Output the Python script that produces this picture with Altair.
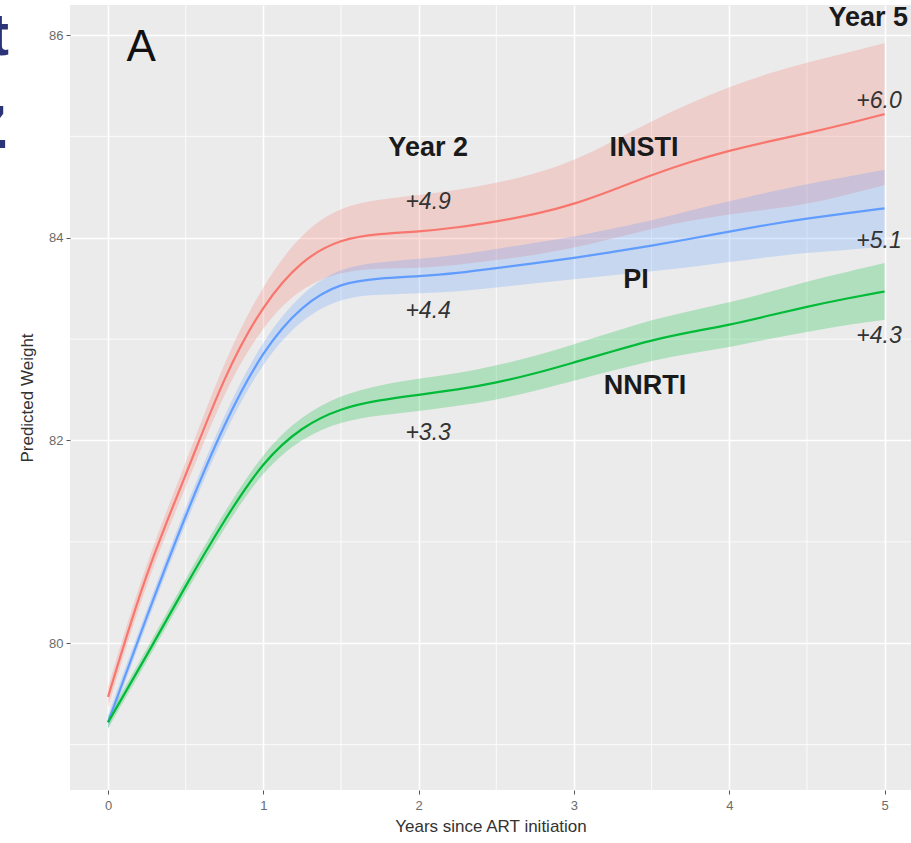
import altair as alt
import pandas as pd

# ---------------- data ----------------
years = [0.0, 0.25, 0.5, 0.75, 1.0, 1.25, 1.5, 1.75, 2.0, 2.25, 2.5,
         2.75, 3.0, 3.25, 3.5, 3.75, 4.0, 4.25, 4.5, 4.75, 5.0]

insti_fit = [79.47, 80.73, 81.65, 82.65, 83.35, 83.79, 83.99, 84.04, 84.06, 84.10, 84.16,
             84.23, 84.33, 84.47, 84.62, 84.75, 84.86, 84.95, 85.03, 85.12, 85.22]
insti_lo = [79.37, 80.63, 81.53, 82.50, 83.15, 83.52, 83.67, 83.70, 83.70, 83.73, 83.78,
            83.83, 83.90, 83.99, 84.09, 84.17, 84.23, 84.28, 84.33, 84.42, 84.52]
insti_hi = [79.57, 80.83, 81.77, 82.80, 83.55, 84.06, 84.31, 84.38, 84.42, 84.47, 84.54,
            84.63, 84.76, 84.95, 85.15, 85.33, 85.49, 85.62, 85.73, 85.82, 85.92]

pi_fit = [79.22, 80.27, 81.27, 82.18, 82.90, 83.34, 83.56, 83.60, 83.62, 83.65, 83.70,
          83.75, 83.80, 83.86, 83.92, 83.99, 84.06, 84.13, 84.19, 84.24, 84.29]
pi_lo = [79.15, 80.20, 81.19, 82.09, 82.79, 83.21, 83.41, 83.44, 83.45, 83.47, 83.51,
         83.55, 83.59, 83.63, 83.67, 83.71, 83.76, 83.81, 83.85, 83.88, 83.91]
pi_hi = [79.29, 80.34, 81.35, 82.27, 83.01, 83.47, 83.71, 83.76, 83.79, 83.83, 83.89,
         83.95, 84.01, 84.09, 84.17, 84.27, 84.36, 84.45, 84.53, 84.60, 84.67]

nnrti_fit = [79.22, 79.88, 80.57, 81.22, 81.80, 82.14, 82.32, 82.40, 82.45, 82.50, 82.57,
             82.66, 82.77, 82.88, 82.99, 83.07, 83.14, 83.23, 83.32, 83.40, 83.47]
nnrti_lo = [79.16, 79.82, 80.50, 81.14, 81.71, 82.03, 82.19, 82.25, 82.29, 82.34, 82.40,
            82.49, 82.59, 82.69, 82.79, 82.86, 82.92, 83.00, 83.07, 83.14, 83.19]
nnrti_hi = [79.28, 79.94, 80.64, 81.30, 81.89, 82.25, 82.45, 82.55, 82.61, 82.66, 82.74,
            82.83, 82.95, 83.07, 83.19, 83.28, 83.36, 83.46, 83.57, 83.66, 83.75]

groups = ["INSTI", "PI", "NNRTI"]
group_colors = ["#F8766D", "#619CFF", "#00BA38"]

x_ticks = [0, 1, 2, 3, 4, 5]
y_ticks = [80, 82, 84, 86]
x_minor = [0.5, 1.5, 2.5, 3.5, 4.5]
y_minor = [79, 81, 83, 85]

# centred bold labels
bold_text = ["Year 2", "INSTI", "PI", "NNRTI"]
bold_x = [2.061, 3.451, 3.40, 3.458]
bold_y = [84.808, 84.808, 83.507, 82.463]

# right-aligned bold label
year5_text = ["Year 5"]
year5_x = [5.151]
year5_y = [86.089]

# italic gains at year 2 (centred) and year 5 (right-aligned)
gain2_text = ["+4.9", "+4.4", "+3.3"]
gain2_x = [2.061, 2.061, 2.061]
gain2_y = [84.286, 83.212, 82.0]
gain5_text = ["+6.0", "+5.1", "+4.3"]
gain5_x = [5.11, 5.11, 5.11]
gain5_y = [85.281, 83.901, 82.966]

panel_text = ["A"]
panel_x = [0.2125]
panel_y = [85.744]

fragment_text = ["t", "z"]

# ---------------- build tables ----------------
rows = []
for g, fit, lo, hi in zip(groups,
                          [insti_fit, pi_fit, nnrti_fit],
                          [insti_lo, pi_lo, nnrti_lo],
                          [insti_hi, pi_hi, nnrti_hi]):
    for yr, f, l, h in zip(years, fit, lo, hi):
        rows.append({"group": g, "year": yr, "fit": f, "lo": l, "hi": h})
df = pd.DataFrame(rows)

xs = alt.Scale(domain=[-0.245, 5.17], nice=False, zero=False)
ys = alt.Scale(domain=[78.552, 86.296], nice=False, zero=False)
XT = "Years since ART initiation"
YT = "Predicted Weight"
xax = alt.Axis(values=x_ticks, title=XT, format="d")
yax = alt.Axis(values=y_ticks, title=YT, format="d")
col = alt.Color("group:N", scale=alt.Scale(domain=groups, range=group_colors), legend=None)

vminor = alt.Chart(pd.DataFrame({"v": x_minor})).mark_rule(
    color="white", strokeWidth=0.8).encode(x=alt.X("v:Q", scale=xs, axis=xax))
hminor = alt.Chart(pd.DataFrame({"v": y_minor})).mark_rule(
    color="white", strokeWidth=0.8).encode(y=alt.Y("v:Q", scale=ys, axis=yax))

bands = alt.Chart(df).mark_area(opacity=0.25, interpolate="basis").encode(
    x=alt.X("year:Q", scale=xs, axis=xax),
    y=alt.Y("lo:Q", scale=ys, axis=yax),
    y2="hi:Q",
    color=col,
    detail="group:N",
)
lines = alt.Chart(df).mark_line(strokeWidth=2.2, interpolate="basis").encode(
    x=alt.X("year:Q", scale=xs, axis=xax),
    y=alt.Y("fit:Q", scale=ys, axis=yax),
    color=col,
    detail="group:N",
)


def text_layer(texts, xv, yv, **kw):
    d = pd.DataFrame({"t": texts, "x": xv, "y": yv})
    return alt.Chart(d).mark_text(baseline="alphabetic", **kw).encode(
        x=alt.X("x:Q", scale=xs, axis=xax),
        y=alt.Y("y:Q", scale=ys, axis=yax),
        text="t:N",
    )


bold_lbl = text_layer(bold_text, bold_x, bold_y, align="center", fontSize=27,
                      fontWeight="bold", font="Liberation Sans", color="#1a1a1a")
year5_lbl = text_layer(year5_text, year5_x, year5_y, align="right", fontSize=27,
                       fontWeight="bold", font="Liberation Sans", color="#1a1a1a")
gain2_lbl = text_layer(gain2_text, gain2_x, gain2_y, align="center", fontSize=23,
                       fontStyle="italic", font="Liberation Sans", color="#333333")
gain5_lbl = text_layer(gain5_text, gain5_x, gain5_y, align="right", fontSize=23,
                       fontStyle="italic", font="Liberation Sans", color="#333333")
panel_lbl = text_layer(panel_text, panel_x, panel_y, align="center", fontSize=44,
                       font="Liberation Sans", color="#111111")

frag_t = alt.Chart(pd.DataFrame({"t": [fragment_text[0]]})).mark_text(
    align="right", baseline="alphabetic", fontSize=60, fontWeight="bold",
    font="Liberation Sans", color="#2B3476").encode(
    x=alt.value(-61), y=alt.value(50), text="t:N")
frag_z = alt.Chart(pd.DataFrame({"t": [fragment_text[1]]})).mark_text(
    align="right", baseline="alphabetic", fontSize=80, fontWeight="bold",
    font="Liberation Sans", color="#2B3476").encode(
    x=alt.value(-62), y=alt.value(143), text="t:N")

chart = alt.layer(
    vminor, hminor, bands, lines,
    bold_lbl, year5_lbl, gain2_lbl, gain5_lbl, panel_lbl, frag_t, frag_z,
).properties(
    width=841, height=785,
    padding={"left": 70, "top": 5, "right": 0, "bottom": 53},
    autosize=alt.AutoSizeParams(type="none"),
    background="white",
).configure_view(
    fill="#EBEBEB", stroke=None,
).configure_axis(
    grid=True, gridColor="white", gridWidth=1.6,
    domain=False, tickColor="#555555", tickSize=4, tickWidth=1,
    labelColor="#6b6b6b", labelFontSize=13, labelFont="Liberation Sans",
    titleColor="#333333", titleFontSize=17, titleFont="Liberation Sans",
    titleFontWeight="normal",
).configure_axisX(
    labelPadding=5, titlePadding=6,
).configure_axisY(
    labelPadding=3, titlePadding=12,
)

chart.save("out.html", embed_options={"renderer": "svg", "actions": False})
